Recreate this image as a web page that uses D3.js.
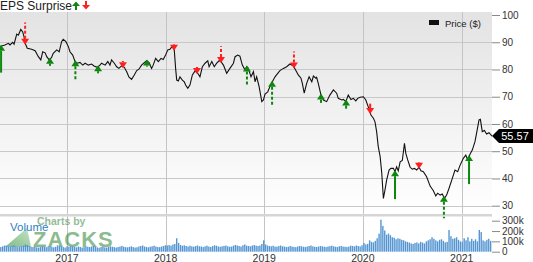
<!DOCTYPE html>
<html>
<head>
<meta charset="utf-8">
<script src="https://cdn.jsdelivr.net/npm/d3@7"></script>
<style>
  body { margin: 0; background: #fff; }
  svg { display: block; font-family: 'Liberation Sans', Arial, sans-serif; }
</style>
</head>
<body>
<div id="chart"></div>
<script>
// Price ($)
const priceDates = [
  "2016-04-28","2016-05-16","2016-05-29","2016-06-04","2016-06-14","2016-06-19","2016-06-29","2016-07-05","2016-07-14","2016-07-21",
  "2016-07-26","2016-07-30","2016-08-07","2016-08-23","2016-09-05","2016-09-17","2016-09-26","2016-10-03","2016-10-12","2016-10-18",
  "2016-10-27","2016-11-05","2016-11-11","2016-11-24","2016-12-03","2016-12-12","2016-12-18","2016-12-28",
  "2017-01-06","2017-01-12","2017-01-22","2017-01-31","2017-02-08","2017-02-18","2017-02-28","2017-03-09","2017-03-21","2017-04-02",
  "2017-04-11","2017-04-23","2017-05-03","2017-05-09","2017-05-22","2017-06-01","2017-06-09","2017-06-15","2017-06-25","2017-07-04",
  "2017-07-12","2017-07-22","2017-08-01","2017-08-10","2017-08-18","2017-08-28","2017-09-07","2017-09-16","2017-09-24","2017-10-04",
  "2017-10-14","2017-10-23","2017-11-01","2017-11-10","2017-11-16","2017-11-25","2017-12-05","2017-12-15","2017-12-23",
  "2018-01-01","2018-01-09","2018-01-17","2018-01-26","2018-02-02","2018-02-07","2018-02-11","2018-02-17","2018-02-23","2018-03-04",
  "2018-03-11","2018-03-16","2018-03-24","2018-04-01","2018-04-10","2018-04-20","2018-04-30","2018-05-08","2018-05-17","2018-05-27",
  "2018-06-06","2018-06-11","2018-06-21","2018-06-30","2018-07-09","2018-07-18","2018-07-25","2018-08-03","2018-08-15","2018-08-27",
  "2018-09-09","2018-09-15","2018-09-25","2018-10-03","2018-10-12","2018-10-22","2018-10-28","2018-11-03","2018-11-13","2018-11-22",
  "2018-11-28","2018-12-04","2018-12-13","2018-12-23","2018-12-29",
  "2019-01-04","2019-01-14","2019-01-22","2019-01-31","2019-02-10","2019-02-20","2019-02-28","2019-03-13","2019-03-25","2019-04-06",
  "2019-04-19","2019-04-25","2019-05-07","2019-05-17","2019-05-22","2019-05-29","2019-06-07","2019-06-16","2019-06-26","2019-07-02",
  "2019-07-11","2019-07-14","2019-07-20","2019-07-30","2019-08-08","2019-08-20","2019-09-01","2019-09-14","2019-09-26","2019-10-02",
  "2019-10-15","2019-10-21","2019-10-30","2019-11-08","2019-11-18","2019-11-27","2019-12-06","2019-12-13","2019-12-22",
  "2020-01-03","2020-01-12","2020-01-21","2020-01-31","2020-02-09","2020-02-15","2020-02-21","2020-02-27","2020-03-05","2020-03-11",
  "2020-03-17","2020-03-23","2020-03-29","2020-04-07","2020-04-14","2020-04-23","2020-04-29","2020-05-05","2020-05-11","2020-05-18",
  "2020-05-26","2020-06-03","2020-06-08","2020-06-15","2020-06-24","2020-07-02","2020-07-10","2020-07-18","2020-07-27","2020-08-03",
  "2020-08-12","2020-08-24","2020-09-06","2020-09-18","2020-09-27","2020-10-04","2020-10-13","2020-10-21","2020-10-29","2020-11-06",
  "2020-11-15","2020-11-25","2020-12-07","2020-12-17","2020-12-26",
  "2021-01-07","2021-01-16","2021-01-23","2021-02-01","2021-02-09","2021-02-19","2021-02-26","2021-03-06","2021-03-11","2021-03-18",
  "2021-03-26","2021-04-03","2021-04-12","2021-04-23"
];
const priceValues = [
  88.4,89.0,89.6,89.0,90.0,89.3,93.0,92.6,94.7,93.8,
  92.0,89.6,87.8,87.4,86.9,84.7,83.5,86.5,86.1,84.7,
  83.5,84.4,85.9,87.2,86.5,90.2,91.1,90.2,
  88.4,86.5,85.3,82.9,82.3,82.6,81.6,82.3,81.6,82.0,
  81.3,80.8,81.6,82.3,81.6,82.9,81.6,83.5,82.3,81.0,
  80.4,81.3,80.8,79.2,77.3,76.4,78.0,79.6,80.1,81.6,
  82.5,83.2,82.5,80.4,81.6,84.1,82.9,84.1,83.7,
  85.3,87.2,87.4,88.6,87.2,80.4,76.1,75.8,77.3,76.1,
  75.5,74.3,73.1,74.3,78.0,79.5,78.6,77.3,81.0,82.3,
  83.2,81.0,82.9,81.0,82.3,83.2,82.9,81.6,78.6,80.4,
  82.3,84.7,85.3,84.9,81.6,79.8,81.0,80.4,77.3,79.2,
  75.5,77.3,73.7,68.2,68.8,
  71.0,71.8,73.7,75.5,77.3,78.6,79.6,80.4,81.0,82.0,
  81.3,80.2,78.0,76.8,74.9,71.3,74.9,77.3,75.5,77.6,
  76.8,77.1,74.9,70.6,68.8,68.2,70.6,72.5,71.3,69.4,
  68.8,69.0,68.2,70.6,69.0,69.4,68.5,69.4,69.8,
  70.0,68.8,66.3,63.3,62.1,60.8,57.2,51.7,48.0,41.9,
  32.7,35.8,39.4,43.1,43.7,43.7,42.5,44.3,42.8,46.1,
  46.6,52.9,49.2,46.8,44.1,43.4,43.7,43.1,44.1,42.8,
  42.5,40.6,37.2,35.5,33.6,34.6,33.9,34.3,32.7,33.9,
  36.4,39.4,43.1,42.5,44.9,
  47.4,48.6,46.8,49.0,50.4,53.5,57.2,61.5,61.7,57.2,
  57.6,56.3,56.8,55.57
];

// EPS surprises (quarterly reports); sign = beat / miss
const epsDates = [
  "2016-05-02","2016-07-30","2016-10-30","2017-02-01","2017-04-26","2017-07-27","2017-10-24","2018-02-01","2018-04-27","2018-07-25",
  "2018-10-29","2019-01-30","2019-04-21","2019-07-30","2019-10-31","2020-01-28","2020-04-29","2020-07-27","2020-10-27","2021-01-28"
];
const epsSurprise = [20, -15, 2, 12, 2, -1, 1, -0.5, -1, -10, 13, 17, -10, 3, 3, -4, 21, -0.5, 15, 21];
const epsRevised = [0, 1, 0, 1, 0, 0, 0, 0, 0, 1, 1, 1, 1, 0, 0, 0, 0, 0, 1, 0];

// weekly volume (thousands), first week starting 2016-05-01
const volumeStart = "2016-05-01";
const volumeValues = [
  45,52,60,58,50,48,55,62,50,45,48,52,58,70,65,55,48,45,50,42,40,45,52,48,44,50,55,46,42,48,62,58,50,45,40,52,
  48,55,50,45,42,50,46,40,44,52,48,45,50,55,47,42,38,45,50,42,40,46,52,48,44,40,45,50,56,48,44,42,47,52,45,40,43,50,55,60,50,46,42,48,52,58,50,45,44,50,55,62,
  60,65,58,70,75,130,85,65,58,62,55,50,58,52,48,55,60,52,50,45,52,58,50,46,55,62,58,50,48,52,56,60,52,48,50,58,65,60,55,50,62,70,58,55,52,60,65,58,55,60,75,110,
  70,60,55,52,58,50,48,55,60,52,50,45,48,55,50,46,44,50,56,52,48,45,50,55,60,52,48,46,50,55,52,48,45,50,54,58,52,48,46,52,55,50,48,45,50,58,55,52,60,55,50,62,
  85,70,75,110,95,90,105,130,175,310,250,205,165,175,160,140,135,120,130,125,115,110,100,95,88,80,75,85,90,80,95,88,80,100,110,120,140,125,110,100,115,120,105,90,95,210,150,125,130,140,115,100,
  95,130,110,140,100,125,105,120,100,210,190,110,100,115,125,105
];

const priceTicks = [100, 90, 80, 70, 60, 50, 40, 30];
const volumeTicks = [0, 100, 200, 300];
const yearTicks = ["2017", "2018", "2019", "2020", "2021"];

const parse = d3.timeParse("%Y-%m-%d");
const prices = priceDates.map((d, i) => ({ date: parse(d), value: priceValues[i] }));
const lastPrice = prices[prices.length - 1];

const width = 533, height = 262;
const plotR = 492, plotT = 12, plotB = 214, volBase = 251.7;

const svg = d3.select('#chart').append('svg')
    .attr('width', width)
    .attr('height', height);

const x = d3.scaleTime()
    .domain([new Date(2016, 3, 28), new Date(2021, 3, 23)])
    .range([0, plotR]);
const y = d3.scaleLinear().domain([30, 100]).range([205.7, 15]);
const yVol = d3.scaleLinear().domain([0, 300]).range([volBase, 220.7]);

// background gradient of the price panel
const defs = svg.append('defs');
const grad = defs.append('linearGradient').attr('id', 'bg').attr('x1', 0).attr('x2', 0).attr('y1', 0).attr('y2', 1);
grad.append('stop').attr('offset', '0%').attr('stop-color', '#e3e3e3');
grad.append('stop').attr('offset', '100%').attr('stop-color', '#ffffff');
const zg = defs.append('linearGradient').attr('id', 'zk').attr('x1', 0).attr('x2', 1).attr('y1', 1).attr('y2', 0);
zg.append('stop').attr('offset', '0%').attr('stop-color', '#2e8b3a');
zg.append('stop').attr('offset', '100%').attr('stop-color', '#9fd49f');

svg.append('rect')
    .attr('x', 0).attr('y', plotT)
    .attr('width', plotR).attr('height', plotB - plotT)
    .attr('fill', 'url(#bg)');

// grid
svg.append('g').selectAll('line')
    .data(priceTicks.filter(t => t < 100))
    .enter().append('line')
    .attr('x1', 0).attr('x2', plotR)
    .attr('y1', d => Math.round(y(d)) + 0.5).attr('y2', d => Math.round(y(d)) + 0.5)
    .attr('stroke', '#c8c8c8');

svg.append('g').selectAll('line')
    .data(yearTicks)
    .enter().append('line')
    .attr('x1', d => Math.round(x(parse(d + '-01-01'))) + 0.5)
    .attr('x2', d => Math.round(x(parse(d + '-01-01'))) + 0.5)
    .attr('y1', plotT).attr('y2', volBase)
    .attr('stroke', '#c4c4c4');

// separator between price and volume panels
svg.append('rect')
    .attr('x', 0).attr('y', plotB).attr('width', plotR).attr('height', 2.5)
    .attr('fill', '#d6d6d6');

// watermark
const wm = svg.append('g').attr('opacity', 0.6);
wm.append('path')
    .attr('d', 'M5,247 L27,228 L31,247 Z')
    .attr('fill', 'url(#zk)');
wm.append('text')
    .attr('x', 37).attr('y', 224.5)
    .style('font-size', '10.5px').style('font-weight', 700)
    .style('fill', '#4f8f55')
    .text('Charts by');
wm.append('text')
    .attr('x', 33).attr('y', 247)
    .style('font-size', '22px').style('font-weight', 700)
    .style('letter-spacing', '1px')
    .style('fill', '#3f8f45')
    .text('ZACKS');

svg.append('text')
    .attr('x', 10).attr('y', 231)
    .style('font-size', '11.5px')
    .style('fill', '#2f7fc2')
    .text('Volume');

// volume bars
const weeks = volumeValues.map((v, i) => ({ date: d3.timeWeek.offset(parse(volumeStart), i), value: v }));
svg.append('g').selectAll('rect')
    .data(weeks)
    .enter().append('rect')
    .attr('x', d => x(d.date) - 0.7)
    .attr('width', 1.4)
    .attr('y', d => yVol(d.value))
    .attr('height', d => volBase - yVol(d.value))
    .attr('fill', '#5596d2');

// price line
const line = d3.line().x(d => x(d.date)).y(d => y(d.value));
svg.append('path')
    .datum(prices)
    .attr('d', line)
    .attr('fill', 'none')
    .attr('stroke', '#111')
    .attr('stroke-width', 1.1);

// EPS arrows
const bisect = d3.bisector(d => d.date).left;
function priceAt(date) {
  const i = Math.max(1, Math.min(prices.length - 1, bisect(prices, date)));
  const a = prices[i - 1], b = prices[i];
  const t = (date - a.date) / (b.date - a.date);
  return a.value + (b.value - a.value) * Math.max(0, Math.min(1, t));
}
const stemLen = d3.scaleLinear().domain([0, 21]).range([6, 29]);
const arrows = svg.append('g');
epsDates.forEach((ds, i) => {
  const dt = parse(ds);
  const cx = x(dt);
  const s = epsSurprise[i];
  const up = s > 0;
  const col = up ? '#0d870d' : '#ff1f1f';
  const py = y(priceAt(dt));
  const tip = up ? py - 1.5 : py + 1.5;
  const dir = up ? 1 : -1;
  const len = stemLen(Math.abs(s));
  arrows.append('path')
      .attr('d', `M${cx},${tip} L${cx - 4},${tip + dir * 6} L${cx + 4},${tip + dir * 6} Z`)
      .attr('fill', col);
  if (len > 6) {
    arrows.append('line')
        .attr('x1', cx).attr('x2', cx)
        .attr('y1', tip + dir * 6).attr('y2', tip + dir * len)
        .attr('stroke', col)
        .attr('stroke-width', 2)
        .attr('stroke-dasharray', epsRevised[i] ? '3,2' : null);
  }
});

// right axes
const axisP = svg.append('g')
    .attr('transform', `translate(${plotR},0)`)
    .call(d3.axisRight(y).tickValues(priceTicks).tickSize(8).tickPadding(2));
const axisV = svg.append('g')
    .attr('transform', `translate(${plotR},0)`)
    .call(d3.axisRight(yVol).tickValues(volumeTicks).tickSize(8).tickPadding(2)
      .tickFormat(d => d === 0 ? '0' : d + 'k'));
[axisP, axisV].forEach(a => {
  a.select('.domain').remove();
  a.selectAll('line').attr('stroke', '#8a8a8a');
  a.selectAll('text')
      .style('font-family', "'Liberation Sans', Arial, sans-serif")
      .style('font-size', '10px')
      .style('fill', '#333');
});

// year labels
svg.append('g').selectAll('text')
    .data(yearTicks)
    .enter().append('text')
    .attr('x', d => x(parse(d + '-01-01')))
    .attr('y', 261.5)
    .attr('text-anchor', 'middle')
    .style('font-size', '10.5px')
    .style('fill', '#333')
    .text(d => d);

// last price label
const ly = y(lastPrice.value);
svg.append('path')
    .attr('d', `M${plotR},${ly} L${plotR + 7},${ly - 7} L${width},${ly - 7} L${width},${ly + 7} L${plotR + 7},${ly + 7} Z`)
    .attr('fill', '#000');
svg.append('text')
    .attr('x', 515).attr('y', ly + 4)
    .attr('text-anchor', 'middle')
    .style('font-size', '11px')
    .style('fill', '#fff')
    .text(d3.format('.2f')(lastPrice.value));

// title with arrows
svg.append('text')
    .attr('x', 0).attr('y', 9.5)
    .style('font-size', '12px')
    .style('fill', '#222')
    .text('EPS Surprise');
svg.append('path').attr('d', 'M76,1.5 L72,6 L80,6 Z M75,6 h2 v4 h-2 Z').attr('fill', '#0d870d');
svg.append('path').attr('d', 'M86,9.5 L82,5 L90,5 Z M85,1 h2 v4 h-2 Z').attr('fill', '#ff1f1f');

// legend
svg.append('rect').attr('x', 429).attr('y', 20).attr('width', 10).attr('height', 5).attr('fill', '#111');
svg.append('text')
    .attr('x', 445).attr('y', 26.5)
    .style('font-size', '9.5px')
    .style('fill', '#222')
    .text('Price ($)');
</script>
</body>
</html>
